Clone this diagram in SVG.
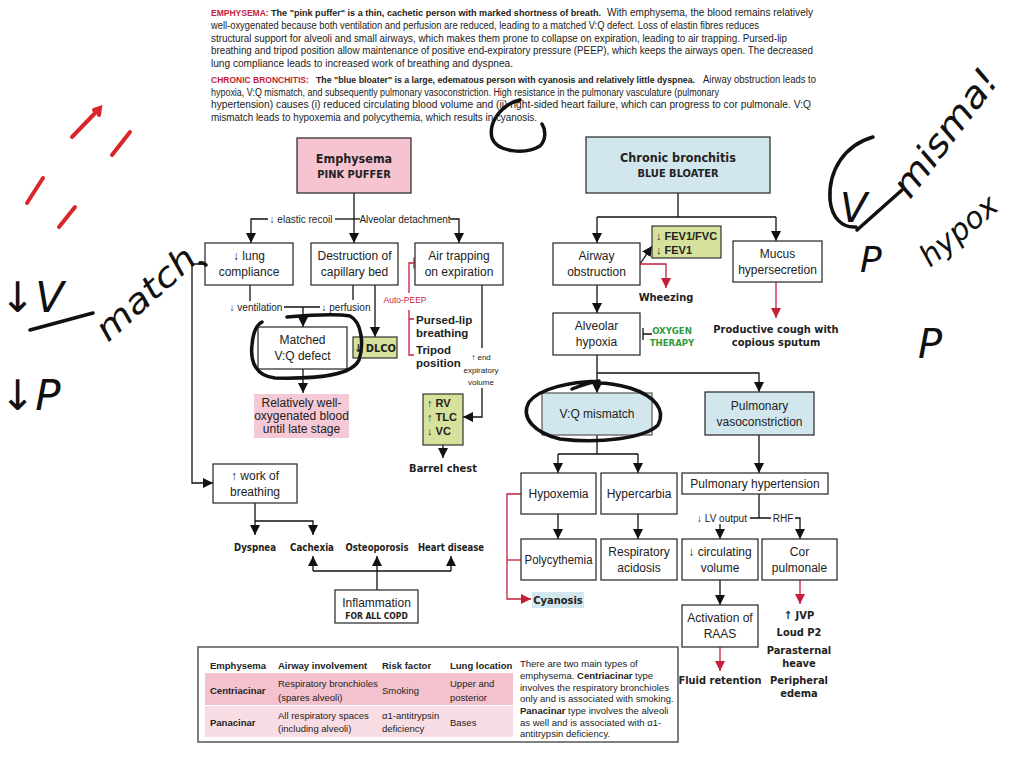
<svg xmlns="http://www.w3.org/2000/svg" width="1024" height="768" viewBox="0 0 1024 768">
<style>
text{font-family:"Liberation Sans",Arial,sans-serif;fill:#222}
.p{font-size:10px}
.r{fill:#c41e3a;font-weight:bold}
.b{font-weight:bold}
.bx{fill:#fff;stroke:#333;stroke-width:1.3}
.t{font-size:12px;text-anchor:middle;dominant-baseline:central}
.nb{font-family:"Liberation Sans Narrow","DejaVu Sans Condensed","Liberation Sans",sans-serif;font-weight:bold;text-anchor:middle;dominant-baseline:central}
.lb{font-size:10px;text-anchor:middle;dominant-baseline:central}
.c{fill:none;stroke:#111;stroke-width:1.3}
.cr{fill:none;stroke:#c41e3a;stroke-width:1.3}
.tb{font-size:9.5px;dominant-baseline:central}
.hw{fill:none;stroke:#111;stroke-width:3.5;stroke-linecap:round;stroke-linejoin:round}
.hr{fill:none;stroke:#d8262a;stroke-width:4;stroke-linecap:round}
.ht{font-family:"DejaVu Sans",sans-serif;font-style:italic;fill:#111}
</style>
<defs>
<marker id="ab" viewBox="0 0 10 10" refX="10" refY="5" markerWidth="10" markerHeight="10" markerUnits="userSpaceOnUse" orient="auto"><path d="M0,0 L10,5 L0,10 z" fill="#111"/></marker>
<marker id="ar" viewBox="0 0 10 10" refX="10" refY="5" markerWidth="10" markerHeight="10" markerUnits="userSpaceOnUse" orient="auto"><path d="M0,0 L10,5 L0,10 z" fill="#c41e3a"/></marker>
</defs>
<rect width="1024" height="768" fill="#fff"/>

<g id="intro">
<text class="r" x="211" y="16" font-size="8.5">EMPHYSEMA:</text>
<text class="b" x="271" y="16" font-size="9" textLength="330" lengthAdjust="spacingAndGlyphs">The "pink puffer" is a thin, cachetic person with marked shortness of breath.</text>
<text class="p" x="607" y="16" textLength="206" lengthAdjust="spacingAndGlyphs">With emphysema, the blood remains relatively</text>
<text class="p" x="211" y="29" textLength="548" lengthAdjust="spacingAndGlyphs">well-oxygenated because both ventilation and perfusion are reduced, leading to a matched V:Q defect. Loss of elastin fibres reduces</text>
<text class="p" x="211" y="41.5" textLength="576" lengthAdjust="spacingAndGlyphs">structural support for alveoli and small airways, which makes them prone to collapse on expiration, leading to air trapping. Pursed-lip</text>
<text class="p" x="211" y="54" textLength="602" lengthAdjust="spacingAndGlyphs">breathing and tripod position allow maintenance of positive end-expiratory pressure (PEEP), which keeps the airways open. The decreased</text>
<text class="p" x="211" y="66.5" textLength="302" lengthAdjust="spacingAndGlyphs">lung compliance leads to increased work of breathing and dyspnea.</text>
<text class="r" x="211" y="83" font-size="8.5">CHRONIC BRONCHITIS:</text>
<text class="b" x="316" y="83" font-size="9" textLength="379" lengthAdjust="spacingAndGlyphs">The "blue bloater" is a large, edematous person with cyanosis and relatively little dyspnea.</text>
<text class="p" x="703" y="83" textLength="113" lengthAdjust="spacingAndGlyphs">Airway obstruction leads to</text>
<text class="p" x="211" y="95.7" textLength="508" lengthAdjust="spacingAndGlyphs">hypoxia, V:Q mismatch, and subsequently pulmonary vasoconstriction. High resistance in the pulmonary vasculature (pulmonary</text>
<text class="p" x="211" y="108.4" textLength="600" lengthAdjust="spacingAndGlyphs">hypertension) causes (i) reduced circulating blood volume and (ii) right-sided heart failure, which can progress to cor pulmonale. V:Q</text>
<text class="p" x="211" y="121" textLength="326" lengthAdjust="spacingAndGlyphs">mismatch leads to hypoxemia and polycythemia, which results in cyanosis.</text>
</g>

<g id="connectors">
<path class="c" d="M354,193 V243" marker-end="url(#ab)"/>
<path class="c" d="M268,219 H251 V243" marker-end="url(#ab)"/>
<path class="c" d="M335,219 H360"/>
<path class="c" d="M450,219 H459 V243" marker-end="url(#ab)"/>
<path class="c" d="M250,285 V301"/>
<path class="c" d="M284,307 H320"/>
<path class="c" d="M303,307 V327" marker-end="url(#ab)"/>
<path class="c" d="M353,285 V300"/>
<path class="c" d="M375,285 V337" marker-end="url(#ab)"/>
<path class="c" d="M303,369 V393" marker-end="url(#ab)"/>
<path class="c" d="M482,285 V348"/>
<path class="c" d="M482,388 V417 H463" marker-end="url(#ab)"/>
<path class="c" d="M443,445 V458" marker-end="url(#ab)"/>
<path class="cr" d="M409,293 V263 H414 M414,257.5 V268.5"/>
<path class="cr" d="M409,310 V355 H414 M409,319 H414"/>
<path class="c" d="M205,264 H192 V483 H213" marker-end="url(#ab)"/>
<path class="c" d="M255,503 V535" marker-end="url(#ab)"/>
<path class="c" d="M255,521 H313 V535" marker-end="url(#ab)"/>
<path class="c" d="M377,590 V556" marker-end="url(#ab)"/>
<path class="c" d="M313,571 H451"/>
<path class="c" d="M313,571 V556" marker-end="url(#ab)"/>
<path class="c" d="M451,571 V556" marker-end="url(#ab)"/>

<path class="c" d="M678,193 V217 M597,217 H776"/>
<path class="c" d="M597,217 V243" marker-end="url(#ab)"/>
<path class="c" d="M776,217 V241" marker-end="url(#ab)"/>
<path class="c" d="M640,264 L652,246" marker-end="url(#ab)"/>
<path class="cr" d="M640,264 H666 V288" marker-end="url(#ar)"/>
<path class="cr" d="M776,282 V318" marker-end="url(#ar)"/>
<path class="c" d="M597,285 V313" marker-end="url(#ab)"/>
<path class="c" d="M652,334 H643 M643,328 V340"/>
<path class="c" d="M597,355 V393" marker-end="url(#ab)"/>
<path class="c" d="M597,373 H759 V392" marker-end="url(#ab)"/>
<path class="c" d="M597,435 V454 M558,454 H638"/>
<path class="c" d="M558,454 V473" marker-end="url(#ab)"/>
<path class="c" d="M638,454 V473" marker-end="url(#ab)"/>
<path class="c" d="M558,514 V539" marker-end="url(#ab)"/>
<path class="c" d="M638,514 V539" marker-end="url(#ab)"/>
<path class="cr" d="M521,494 H507 V599 H531" marker-end="url(#ar)"/>
<path class="cr" d="M507,560 H521"/>
<path class="c" d="M759,435 V473" marker-end="url(#ab)"/>
<path class="c" d="M759,494 V518 M750,518 H771 M795,518 H800 V539" marker-end="url(#ab)"/>
<path class="c" d="M720,524 V539" marker-end="url(#ab)"/>
<path class="c" d="M720,580 V605" marker-end="url(#ab)"/>
<path class="cr" d="M800,580 V604" marker-end="url(#ar)"/>
<path class="cr" d="M720,647 V671" marker-end="url(#ar)"/>
</g>

<g id="emphysema">
<rect x="297" y="138" width="114" height="55" fill="#f5c4d0" stroke="#333" stroke-width="1.3"/>
<text class="nb" x="354" y="158" font-size="12.5">Emphysema</text>
<text class="nb" x="354" y="174" font-size="11">PINK PUFFER</text>
</g>
<g id="lbl-elastic"><text class="lb" x="301" y="219">↓ elastic recoil</text></g>
<g id="lbl-alveolar"><text class="lb" x="405" y="219">Alveolar detachment</text></g>
<g id="lung-compliance">
<rect class="bx" x="205" y="243" width="88" height="42"/>
<text class="t" x="249" y="256">↓ lung</text><text class="t" x="249" y="272">compliance</text>
</g>
<g id="destruction">
<rect class="bx" x="311" y="243" width="87" height="42"/>
<text class="t" x="354.5" y="256">Destruction of</text><text class="t" x="354.5" y="272">capillary bed</text>
</g>
<g id="air-trapping">
<rect class="bx" x="415" y="243" width="88" height="42"/>
<text class="t" x="459" y="256">Air trapping</text><text class="t" x="459" y="272">on expiration</text>
</g>
<g id="lbl-vent"><text class="lb" x="256" y="307">↓ ventilation</text></g>
<g id="lbl-perf"><text class="lb" x="346" y="307">↓ perfusion</text></g>
<g id="auto-peep"><text x="405" y="300" font-size="8.5" style="fill:#c41e3a;text-anchor:middle;dominant-baseline:central;font-family:'Liberation Sans Narrow','Liberation Sans',sans-serif">Auto-PEEP</text></g>
<g id="pursed">
<text class="b" x="416" y="324" font-size="11.5">Pursed-lip</text>
<text class="b" x="416" y="337" font-size="11.5">breathing</text>
<text class="b" x="416" y="354" font-size="11.5">Tripod</text>
<text class="b" x="416" y="367" font-size="11.5">position</text>
</g>
<g id="matched">
<rect class="bx" x="258" y="327" width="89" height="42"/>
<text class="t" x="302.5" y="340">Matched</text><text class="t" x="302.5" y="356">V:Q defect</text>
</g>
<g id="dlco">
<rect x="353" y="337" width="44" height="21" fill="#d6e29c" stroke="#333" stroke-width="1.2"/>
<text class="nb" x="375" y="348" font-size="11">↓ DLCO</text>
</g>
<g id="end-exp">
<text x="481" y="357" font-size="8" style="text-anchor:middle;dominant-baseline:central">↑ end</text>
<text x="481" y="370" font-size="8" style="text-anchor:middle;dominant-baseline:central">expiratory</text>
<text x="481" y="382" font-size="8" style="text-anchor:middle;dominant-baseline:central">volume</text>
</g>
<g id="well-oxygenated">
<rect x="254" y="394" width="95" height="44" fill="#f5c9d5"/>
<text class="t" x="301.5" y="403" font-size="11.5">Relatively well-</text>
<text class="t" x="301.5" y="416" font-size="11.5">oxygenated blood</text>
<text class="t" x="301.5" y="429" font-size="11.5">until late stage</text>
</g>
<g id="rv-tlc-vc">
<rect x="423" y="394" width="40" height="51" fill="#d6e29c" stroke="#333" stroke-width="1.2"/>
<text class="b" x="427" y="407" font-size="11">↑ RV</text>
<text class="b" x="427" y="421" font-size="11">↑ TLC</text>
<text class="b" x="427" y="435" font-size="11">↓ VC</text>
</g>
<g id="barrel"><text class="nb" x="443" y="468" font-size="11">Barrel chest</text></g>
<g id="work">
<rect class="bx" x="213" y="464" width="84" height="39"/>
<text class="t" x="255" y="476">↑ work of</text><text class="t" x="255" y="492">breathing</text>
</g>
<g id="dyspnea"><text class="nb" x="255" y="547" font-size="11" textLength="42" lengthAdjust="spacingAndGlyphs">Dyspnea</text></g>
<g id="cachexia"><text class="nb" x="312" y="547" font-size="11" textLength="44" lengthAdjust="spacingAndGlyphs">Cachexia</text></g>
<g id="osteoporosis"><text class="nb" x="377" y="547" font-size="11" textLength="63" lengthAdjust="spacingAndGlyphs">Osteoporosis</text></g>
<g id="heart-disease"><text class="nb" x="451" y="547" font-size="11" textLength="66" lengthAdjust="spacingAndGlyphs">Heart disease</text></g>
<g id="inflammation">
<rect class="bx" x="335" y="590" width="83" height="33"/>
<text class="t" x="376.5" y="603">Inflammation</text>
<text class="nb" x="376.5" y="616" font-size="8.5">FOR ALL COPD</text>
</g>

<g id="chronic-bronchitis">
<rect x="586" y="137" width="184" height="56" fill="#d2e6ee" stroke="#333" stroke-width="1.3"/>
<text class="nb" x="678" y="157" font-size="12.5">Chronic bronchitis</text>
<text class="nb" x="678" y="173" font-size="11">BLUE BLOATER</text>
</g>
<g id="airway">
<rect class="bx" x="553" y="243" width="87" height="42"/>
<text class="t" x="596.5" y="256">Airway</text><text class="t" x="596.5" y="272">obstruction</text>
</g>
<g id="fev1">
<rect x="652" y="226" width="69" height="32" fill="#d6e29c" stroke="#333" stroke-width="1.2"/>
<text class="b" x="656" y="240" font-size="11">↓ FEV1/FVC</text>
<text class="b" x="656" y="254" font-size="11">↓ FEV1</text>
</g>
<g id="wheezing"><text class="nb" x="666" y="297" font-size="11">Wheezing</text></g>
<g id="mucus">
<rect class="bx" x="733" y="241" width="89" height="41"/>
<text class="t" x="777.5" y="254">Mucus</text><text class="t" x="777.5" y="270">hypersecretion</text>
</g>
<g id="cough">
<text class="nb" x="776" y="329" font-size="11">Productive cough with</text>
<text class="nb" x="776" y="342" font-size="11">copious sputum</text>
</g>
<g id="alveolar-hypoxia">
<rect class="bx" x="553" y="313" width="87" height="42"/>
<text class="t" x="596.5" y="326">Alveolar</text><text class="t" x="596.5" y="342">hypoxia</text>
</g>
<g id="oxygen">
<text class="nb" x="672" y="330" font-size="9.5" style="fill:#2f9a3e">OXYGEN</text>
<text class="nb" x="672" y="342" font-size="9.5" style="fill:#2f9a3e">THERAPY</text>
</g>
<g id="vq-mismatch">
<rect x="542" y="393" width="110" height="42" fill="#d2e6ee" stroke="#555" stroke-width="1.2"/>
<text class="t" x="597" y="414">V:Q mismatch</text>
</g>
<g id="pulm-vaso">
<rect x="705" y="392" width="109" height="43" fill="#d2e6ee" stroke="#333" stroke-width="1.3"/>
<text class="t" x="759.5" y="406">Pulmonary</text><text class="t" x="759.5" y="422">vasoconstriction</text>
</g>
<g id="hypoxemia">
<rect class="bx" x="521" y="473" width="75" height="41"/>
<text class="t" x="558.5" y="494">Hypoxemia</text>
</g>
<g id="hypercarbia">
<rect class="bx" x="601" y="473" width="76" height="41"/>
<text class="t" x="639" y="494">Hypercarbia</text>
</g>
<g id="polycythemia">
<rect class="bx" x="521" y="539" width="75" height="41"/>
<text class="t" x="558.5" y="560" textLength="68" lengthAdjust="spacingAndGlyphs">Polycythemia</text>
</g>
<g id="resp-acidosis">
<rect class="bx" x="601" y="539" width="76" height="41"/>
<text class="t" x="639" y="552">Respiratory</text><text class="t" x="639" y="568">acidosis</text>
</g>
<g id="cyanosis">
<rect x="532" y="592" width="52" height="16" fill="#d2e6ee"/>
<text class="nb" x="558" y="600" font-size="11">Cyanosis</text>
</g>
<g id="pulm-htn">
<rect class="bx" x="682" y="473" width="146" height="21"/>
<text class="t" x="755" y="484" font-size="11.5">Pulmonary hypertension</text>
</g>
<g id="lbl-lv"><text class="lb" x="722" y="518">↓ LV output</text></g>
<g id="lbl-rhf"><text class="lb" x="783" y="518">RHF</text></g>
<g id="circ-vol">
<rect class="bx" x="682" y="539" width="76" height="41"/>
<text class="t" x="720" y="552">↓ circulating</text><text class="t" x="720" y="568">volume</text>
</g>
<g id="cor-pulmonale">
<rect class="bx" x="762" y="539" width="75" height="41"/>
<text class="t" x="799.5" y="552">Cor</text><text class="t" x="799.5" y="568">pulmonale</text>
</g>
<g id="raas">
<rect class="bx" x="682" y="605" width="76" height="42"/>
<text class="t" x="720" y="618">Activation of</text><text class="t" x="720" y="634">RAAS</text>
</g>
<g id="fluid"><text class="nb" x="720" y="680" font-size="11">Fluid retention</text></g>
<g id="signs">
<text class="nb" x="799" y="615" font-size="11">↑ JVP</text>
<text class="nb" x="799" y="632" font-size="11">Loud P2</text>
<text class="nb" x="799" y="650" font-size="11">Parasternal</text>
<text class="nb" x="799" y="663" font-size="11">heave</text>
<text class="nb" x="799" y="680" font-size="11">Peripheral</text>
<text class="nb" x="799" y="693" font-size="11">edema</text>
</g>

<g id="table">
<rect x="198" y="647" width="480" height="95" fill="#fff" stroke="#555" stroke-width="1.5"/>
<rect x="205" y="673" width="308" height="32" fill="#f4c2cf"/>
<rect x="205" y="706" width="308" height="31" fill="#f9dde4"/>
<text class="tb b" x="210" y="665" font-size="10">Emphysema</text>
<text class="tb b" x="278" y="665" font-size="10">Airway involvement</text>
<text class="tb b" x="382" y="665" font-size="10">Risk factor</text>
<text class="tb b" x="450" y="665" font-size="10">Lung location</text>
<text class="tb b" x="210" y="690" font-size="10">Centriacinar</text>
<text class="tb" x="278" y="683">Respiratory bronchioles</text>
<text class="tb" x="278" y="697">(spares alveoli)</text>
<text class="tb" x="382" y="690">Smoking</text>
<text class="tb" x="450" y="683">Upper and</text>
<text class="tb" x="450" y="697">posterior</text>
<text class="tb b" x="210" y="722" font-size="10">Panacinar</text>
<text class="tb" x="278" y="715">All respiratory spaces</text>
<text class="tb" x="278" y="728">(including alveoli)</text>
<text class="tb" x="382" y="715">α1-antitrypsin</text>
<text class="tb" x="382" y="728">deficiency</text>
<text class="tb" x="450" y="722">Bases</text>
<text class="tb" x="520" y="663" font-size="9">There are two main types of</text>
<text class="tb" x="520" y="675" font-size="9">emphysema. <tspan class="b">Centriacinar</tspan> type</text>
<text class="tb" x="520" y="687" font-size="9">involves the respiratory bronchioles</text>
<text class="tb" x="520" y="698" font-size="9">only and is associated with smoking.</text>
<text class="tb" x="520" y="710" font-size="9"><tspan class="b">Panacinar</tspan> type involves the alveoli</text>
<text class="tb" x="520" y="722" font-size="9">as well and is associated with α1-</text>
<text class="tb" x="520" y="733" font-size="9">antitrypsin deficiency.</text>
</g>

<g id="annotations">
<path class="hw" d="M287,317 C310,315 335,313 350,316 C362,322 364,345 359,360 C352,375 320,379 275,378 C256,376 250,362 252,345 C253,333 256,325 262,322"/>
<path class="hw" d="M572,389 C582,385 592,382 599,381 M599,381 C570,382 540,388 529,402 C520,418 535,433 560,439 C600,444 645,438 658,425 C666,410 655,396 630,388 C615,384 605,383 599,383"/>
<path class="hw" d="M520,100 C502,104 488,122 492,138 C497,152 525,155 540,146 C546,140 546,130 542,124"/>
<path class="hr" d="M72,137 L100,108 M94,110 L100,108 L99,115"/>
<path class="hr" d="M112,155 L130,132"/>
<path class="hr" d="M27,203 L43,178"/>
<path class="hr" d="M59,227 L75,207"/>
<path class="hw" d="M30,330 L93,313"/>
<path class="hw" d="M200,263 C203,262 205,264 206,265"/>
<text class="ht" x="0" y="312" font-size="42">↓V</text>
<text class="ht" x="0" y="410" font-size="42">↓P</text>
<text class="ht" x="108" y="343" font-size="34" textLength="122" lengthAdjust="spacingAndGlyphs" transform="rotate(-42 108 343)">match</text>
<path class="hw" d="M873,137 C845,145 828,170 830,200 C832,218 842,228 856,227"/>
<text class="ht" x="840" y="222" font-size="40">V</text>
<path class="hw" d="M857,230 L902,190"/>
<text class="ht" x="860" y="272" font-size="36">P</text>
<text class="ht" x="910" y="200" font-size="36" textLength="150" lengthAdjust="spacingAndGlyphs" transform="rotate(-53 910 200)">misma!</text>
<text class="ht" x="930" y="268" font-size="30" textLength="92" lengthAdjust="spacingAndGlyphs" transform="rotate(-40 930 268)">hypox</text>
<text class="ht" x="918" y="358" font-size="40">P</text>
</g>
</svg>
